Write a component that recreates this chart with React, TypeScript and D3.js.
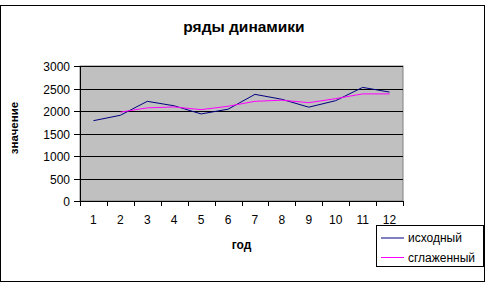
import React from "react";
import * as d3 from "d3";

const categories = ["1", "2", "3", "4", "5", "6", "7", "8", "9", "10", "11", "12"];
const original = [1785, 1905, 2215, 2115, 1935, 2040, 2370, 2260, 2085, 2230, 2525, 2420];
const smoothed: (number | null)[] = [null, 1975, 2070, 2090, 2030, 2105, 2215, 2240, 2185, 2275, 2380, 2380];
const yTicks = [0, 500, 1000, 1500, 2000, 2500, 3000];
const title = "ряды динамики";
const xTitle = "год";
const yTitle = "значение";
const seriesNames = ["исходный", "сглаженный"];

const W = 491, H = 286;
const plot = { left: 80, right: 403, top: 66, bottom: 201 };
const FONT = "'Liberation Sans', Arial, sans-serif";

export default function App() {
  const x = d3.scaleBand<string>().domain(categories).range([plot.left, plot.right]);
  const y = d3.scaleLinear().domain([0, 3000]).range([plot.bottom, plot.top]);
  const cx = (c: string) => (x(c) as number) + x.bandwidth() / 2;

  const line = d3
    .line<{ c: string; v: number | null }>()
    .defined((d) => d.v !== null)
    .x((d) => cx(d.c))
    .y((d) => y(d.v as number));

  const origData = categories.map((c, i) => ({ c, v: original[i] }));
  const smData = categories.map((c, i) => ({ c, v: smoothed[i] }));
  const tickXs = [...categories.map((c) => x(c) as number), plot.right];

  return (
    <svg width={W} height={H} style={{ position: "absolute", left: 0, top: 0 }} fontFamily={FONT}>
      <rect x={0} y={0} width={W} height={H} fill="#fff" />
      <rect x={0.5} y={5.5} width={484} height={276} fill="#fff" stroke="#000" strokeWidth={1} />
      <text x={244} y={32} textAnchor="middle" fontSize={15.5} fontWeight="bold">{title}</text>

      <rect x={plot.left} y={plot.top} width={plot.right - plot.left} height={plot.bottom - plot.top} fill="#c0c0c0" stroke="#808080" strokeWidth={1} />
      {yTicks.map((t) => (
        <g key={t}>
          <line x1={plot.left} x2={plot.right} y1={Math.round(y(t)) + 0.5} y2={Math.round(y(t)) + 0.5} stroke="#000" />
          <line x1={plot.left - 6} x2={plot.left} y1={Math.round(y(t)) + 0.5} y2={Math.round(y(t)) + 0.5} stroke="#000" />
          <text x={70} y={y(t) + 5} textAnchor="end" fontSize={12}>{t}</text>
        </g>
      ))}
      <line x1={plot.left + 0.5} x2={plot.left + 0.5} y1={plot.top} y2={plot.bottom} stroke="#000" />
      {tickXs.map((tx, i) => (
        <line key={i} x1={Math.round(tx) + 0.5} x2={Math.round(tx) + 0.5} y1={plot.bottom} y2={plot.bottom + 5} stroke="#000" />
      ))}
      {categories.map((c) => (
        <text key={c} x={cx(c)} y={224} textAnchor="middle" fontSize={12}>{c}</text>
      ))}

      <path d={line(origData) || ""} fill="none" stroke="#000080" strokeWidth={1} />
      <path d={line(smData) || ""} fill="none" stroke="#ff00ff" strokeWidth={1} />

      <text x={241.5} y={249} textAnchor="middle" fontSize={12} fontWeight="bold">{xTitle}</text>
      <text transform={`translate(18,128) rotate(-90)`} textAnchor="middle" fontSize={11.5} fontWeight="bold">{yTitle}</text>

      <rect x={376.5} y={225.5} width={107} height={41} fill="#fff" stroke="#000" />
      {seriesNames.map((n, i) => (
        <g key={n}>
          <line x1={381} x2={404} y1={238 + i * 19.5} y2={238 + i * 19.5} stroke={i === 0 ? "#000080" : "#ff00ff"} />
          <text x={408} y={242 + i * 19.5} fontSize={12}>{n}</text>
        </g>
      ))}
    </svg>
  );
}
